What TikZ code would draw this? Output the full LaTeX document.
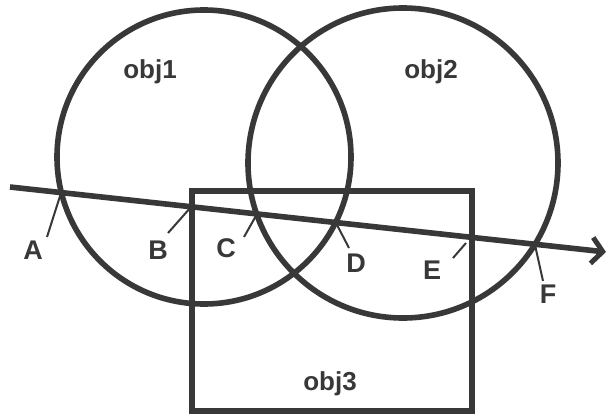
\documentclass[tikz,border=0pt]{standalone}
\usepackage{fontspec}
\setmainfont{Liberation Sans}
\usetikzlibrary{arrows.meta}
\definecolor{ink}{HTML}{383838}
\begin{document}
\begin{tikzpicture}[x=1pt,y=-1pt,
  shape line/.style={draw=ink, line width=5.6pt},
  tickline/.style={draw=ink, line width=2pt},
  lbl/.style={text=ink, font=\bfseries\fontsize{27}{30}\selectfont, inner sep=0pt},
  objlbl/.style={text=ink, font=\bfseries\fontsize{26}{30}\selectfont, inner sep=0pt}]
\useasboundingbox[fill=white] (0,0) rectangle (608,415);
% shapes
\node[shape line, circle, minimum size=294pt, inner sep=0pt] (obja) at (204,157) {};
\node[shape line, circle, minimum size=310pt, inner sep=0pt] (objb) at (403,163) {};
\node[shape line, rectangle, minimum width=280pt, minimum height=220pt, inner sep=0pt] (objc) at (332,301) {};
% texts
\node[objlbl] (t1) at (150,72) {obj1};
\node[objlbl] (t2) at (431,72) {obj2};
\node[objlbl] (t3) at (330,384) {obj3};
% ray
\coordinate (rs) at (10,187);
\coordinate (re) at (606,252);
\draw[ink, line width=5.6pt, -{Straight Barb[length=11pt,width=26pt,line width=5pt]}] (rs) -- (re);
% intersection points
\coordinate (pA) at (61,193);
\coordinate (pB) at (191,207);
\coordinate (pC) at (257,214);
\coordinate (pD) at (336,223);
\coordinate (pE) at (466,243);
\coordinate (pF) at (535,245);
% tick ends
\coordinate (qA) at (47,237);
\coordinate (qB) at (168,233);
\coordinate (qC) at (244,237);
\coordinate (qD) at (349,248);
\coordinate (qE) at (453,258);
\coordinate (qF) at (543,281);
% labels
\node[lbl] (A) at (33,250) {A};
\node[lbl] (B) at (158,250) {B};
\node[lbl] (C) at (226,248) {C};
\node[lbl] (D) at (356,263) {D};
\node[lbl] (E) at (432,270) {E};
\node[lbl] (F) at (548,294) {F};
% ticks
\draw[tickline] (pA) -- (qA);
\draw[tickline] (pB) -- (qB);
\draw[tickline] (pC) -- (qC);
\draw[tickline] (pD) -- (qD);
\draw[tickline] (pE) -- (qE);
\draw[tickline] (pF) -- (qF);
\end{tikzpicture}
\end{document}
